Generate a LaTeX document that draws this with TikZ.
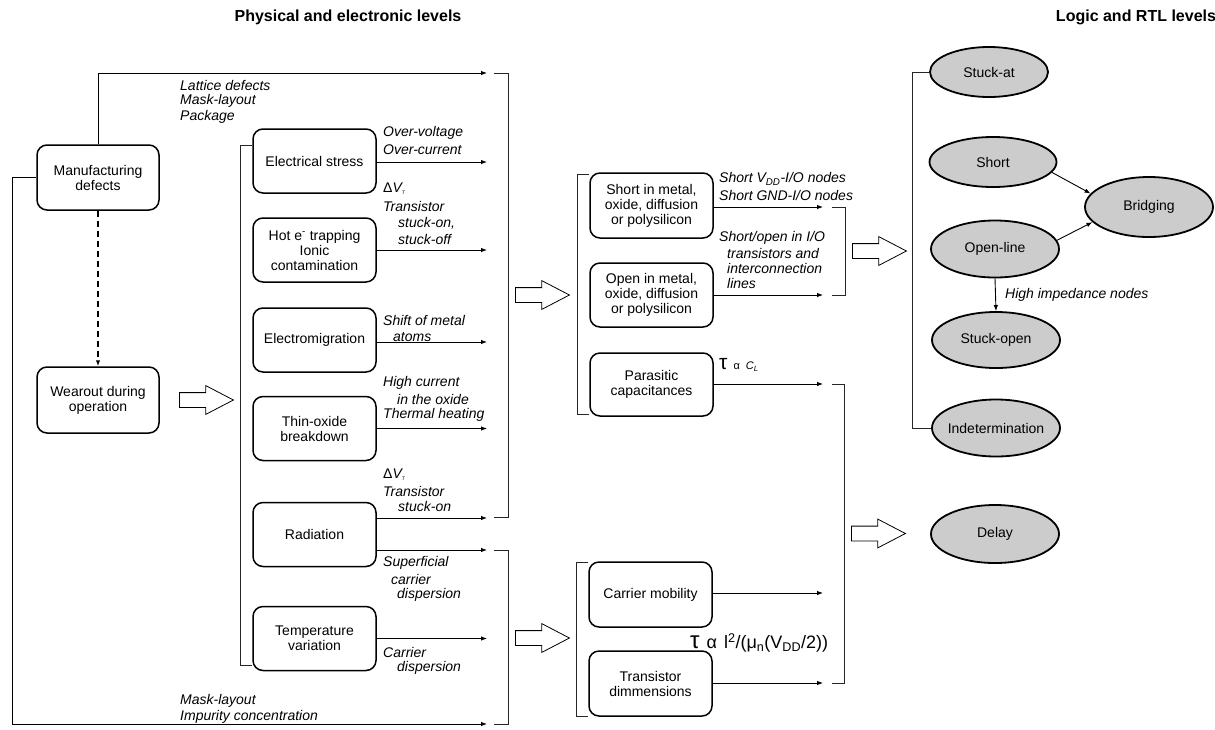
\documentclass[tikz,border=0pt]{standalone}
\usepackage{fontspec}
\setmainfont{Liberation Sans}
\usetikzlibrary{arrows.meta,shapes.geometric,shapes.arrows,calc}

\begin{document}
\begin{tikzpicture}[x=1pt,y=-1pt,
  every node/.style={font=\fontsize{14}{15}\selectfont},
  box/.style={draw, line width=1.5pt, rounded corners=10pt, minimum width=122pt,
    minimum height=64pt, align=center, inner sep=2pt},
  fault/.style={ellipse, draw, line width=1.8pt, fill=black!20, minimum width=128pt,
    minimum height=56pt, inner sep=0pt, font=\fontsize{13.5}{15}\selectfont},
  lbl/.style={anchor=west, inner sep=0pt, font=\itshape\fontsize{14}{16}\selectfont},
  conn/.style={line width=0.9pt, -{Latex[length=6pt,width=4.5pt]}},
  brk/.style={line width=0.9pt, draw=black!85},
  fat/.style={single arrow, draw, line width=0.8pt, fill=white, minimum height=54pt,
    single arrow head extend=7pt, single arrow tip angle=55, inner sep=0pt, anchor=tail},
  title/.style={font=\bfseries\fontsize{16}{18}\selectfont}
]
\useasboundingbox (0,0) rectangle (1215,729);
\newcommand{\shaft}{\rule{0pt}{14pt}}

% ---------- titles ----------
\node[title] (t1) at (348,17) {Physical and electronic levels};
\node[title] (t2) at (1136,17) {Logic and RTL levels};

% ---------- origin of defects ----------
\node[box, minimum height=65pt] (mfg) at (98,177.5) {Manufacturing\\defects};
\node[box, minimum height=66pt] (wear) at (98,400) {Wearout during\\operation};
\draw[conn, line width=1.4pt, dash pattern=on 6pt off 4pt] (mfg.south) -- (wear.north);

% ---------- physical mechanisms ----------
\node[box, minimum width=123pt] (es)   at (314.5,161)   {Electrical stress};
\node[box, minimum width=123pt] (hot)  at (314.5,250)   {Hot e\textsuperscript{-} trapping\\Ionic\\contamination};
\node[box, minimum width=123pt] (em)   at (314.5,340)   {Electromigration};
\node[box, minimum width=123pt] (thin) at (314.5,428.5) {Thin-oxide\\breakdown};
\node[box, minimum width=123pt] (rad)  at (314.5,534.5) {Radiation};
\node[box, minimum width=123pt] (temp) at (314.5,638.5) {Temperature\\variation};

\node[fat] (f1) at (179,400) {\shaft};
\draw[brk] (es.west |- 0,145) -- (240,145) -- (240,665) -- (temp.west |- 0,665);

% arrow tips in front of the first pair of brackets
\coordinate (tipA) at (487,0);
\coordinate (topend) at (487,73);
\coordinate (lowend) at (487,724);
\coordinate (leftx) at (12,0);

\draw[conn] (mfg.north) |- (topend);
\draw[conn] (mfg.west) -- (mfg.west -| leftx) -- (leftx |- lowend) -- (lowend);

\draw[conn] (es.east |- 0,162) -- (tipA |- 0,162);
\draw[conn] (hot.east) -- (hot.east -| tipA);
\draw[conn] (em.east |- 0,342) -- (tipA |- 0,342);
\draw[conn] (thin.east) -- (thin.east -| tipA);
\draw[conn] ($(rad.east)+(0,-16.5)$) coordinate (radup) -- (radup -| tipA);
\draw[conn] ($(rad.east)+(0,15.5)$) coordinate (raddn) -- (raddn -| tipA);
\draw[conn] (temp.east) -- (temp.east -| tipA);

% labels of the physical mechanisms
\node[lbl] (l1) at (180,85) {Lattice defects};
\node[lbl] (l2) at (180,101) {Mask-layout};
\node[lbl] (l3) at (180,117) {Package};
\node[lbl] (l4) at (383,133) {Over-voltage};
\node[lbl] (l5) at (383,150) {Over-current};
\node[lbl] (l6) at (383,189) {\upshape Δ\itshape V\textsubscript{\tiny T}};
\node[lbl] (l7) at (383,206) {Transistor};
\node[lbl] (l8) at (398,223) {stuck-on,};
\node[lbl] (l9) at (398,239) {stuck-off};
\node[lbl] (l10) at (383,320) {Shift of metal};
\node[lbl] (l11) at (393,337) {atoms};
\node[lbl] (l12) at (383,383) {High current};
\node[lbl] (l13) at (397,399) {in the oxide};
\node[lbl] (l14) at (383,415) {Thermal heating};
\node[lbl] (l15) at (383,475) {\upshape Δ\itshape V\textsubscript{\tiny T}};
\node[lbl] (l16) at (383,491) {Transistor};
\node[lbl] (l17) at (398,506) {stuck-on};
\node[lbl] (l18) at (383,563) {Superficial};
\node[lbl] (l19) at (391,579) {carrier};
\node[lbl] (l20) at (397,595) {dispersion};
\node[lbl] (l21) at (383,652) {Carrier};
\node[lbl] (l22) at (397,668) {dispersion};
\node[lbl] (l23) at (180,701) {Mask-layout};
\node[lbl] (l24) at (180,717) {Impurity concentration};

% brackets collecting the mechanisms
\draw[brk] (494,73) -- (508,73) -- (508,517) -- (494,517);
\draw[brk] (494,550) -- (508,550) -- (508,724) -- (494,724);
\node[fat] (f2) at (515,295) {\shaft};
\node[fat] (f3) at (515,638) {\shaft};

% ---------- electronic effects ----------
\node[box, minimum width=123pt, minimum height=65pt] (short) at (651.5,205.5) {Short in metal,\\oxide, diffusion\\or polysilicon};
\node[box, minimum width=123pt] (open) at (651.5,295) {Open in metal,\\oxide, diffusion\\or polysilicon};
\node[box, minimum width=123pt, minimum height=63pt] (para) at (651.5,384.5) {Parasitic\\capacitances};
\node[box, minimum width=123pt, minimum height=65pt] (carr) at (650.5,594.5) {Carrier mobility};
\node[box, minimum width=123pt, minimum height=65pt] (tdim) at (650.5,683.5) {Transistor\\dimmensions};

\draw[brk] (short.west |- 0,174) -- (577,174) -- (577,414) -- (para.west |- 0,414);
\draw[brk] (carr.west |- 0,562) -- (576,562) -- (576,716) -- (tdim.west |- 0,716);

\coordinate (tipB) at (823,0);
\draw[conn] (short.east |- 0,207) -- (tipB |- 0,207);
\draw[conn] (open.east) -- (open.east -| tipB);
\draw[conn] (para.east |- 0,384) -- (tipB |- 0,384);
\draw[conn] (carr.east |- 0,593) -- (tipB |- 0,593);
\draw[conn] (tdim.east |- 0,683) -- (tipB |- 0,683);

\node[lbl] (m1) at (719,179) {Short V\textsubscript{DD}-I/O nodes};
\node[lbl] (m2) at (719,195) {Short GND-I/O nodes};
\node[lbl] (m3) at (719,238) {Short/open in I/O};
\node[lbl] (m4) at (727,253) {transistors and};
\node[lbl] (m5) at (727,268) {interconnection};
\node[lbl] (m6) at (727,283) {lines};
\node[lbl, font=\fontsize{13.5}{16}\selectfont] (m7) at (719,365)
  {{\fontsize{21}{21}\selectfont τ}\hspace{6pt}{\fontsize{11}{11}\selectfont α}\hspace{6pt}{\itshape\fontsize{11}{11}\selectfont C\textsubscript{L}}};
\node[lbl, font=\fontsize{18}{19}\selectfont] (m8) at (690,643)
  {{\fontsize{24}{24}\selectfont τ}\hspace{7pt}α\hspace{7pt}l\textsuperscript{2}/(μ\textsubscript{n}(V\textsubscript{DD}/2))};

\draw[brk] (832,207) -- (845,207) -- (845,295) -- (832,295);
\draw[brk] (832,384) -- (844,384) -- (844,683) -- (832,683);
\node[fat] (f4) at (852,251) {\shaft};
\node[fat] (f5) at (851,533.5) {\shaft};

% ---------- logic and RTL faults ----------
\node[fault, minimum width=118pt, minimum height=50pt, label=center:Stuck-at] (sa) at (989,72) {};
\node[fault, minimum width=127pt, minimum height=50pt, label=center:Short] (sh) at (993,162) {};
\node[fault, minimum height=57pt, label=center:Open-line] (ol) at (995,249) {};
\node[fault, label=center:Stuck-open] (so) at (996,340) {};
\node[fault, minimum height=57pt, label=center:Indetermination] (ind) at (996,428) {};
\node[fault, minimum height=58pt, label=center:Delay] (del) at (995,534) {};
\node[fault, minimum height=60pt, label=center:Bridging] (br) at (1149,207) {};

\draw[brk] (sa.west) -- (912,72) -- (912,428) -- (ind.west);
\draw[conn] (sh.-10) -- (br.167);
\draw[conn] (ol.8) -- (br.195);
\draw[conn] (ol.south) -- (so.north);
\node[lbl] (h1) at (1005,295) {High impedance nodes};
\end{tikzpicture}
\end{document}
